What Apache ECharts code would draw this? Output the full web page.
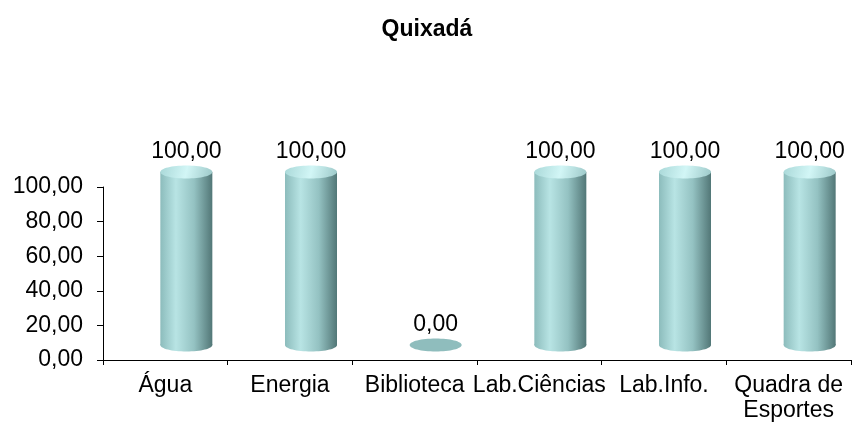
<!DOCTYPE html>
<html>
<head>
<meta charset="utf-8">
<script src="https://cdn.jsdelivr.net/npm/echarts@6/dist/echarts.min.js"></script>
<style>
  html, body { margin: 0; padding: 0; background: #fff; }
  #chart { width: 854px; height: 425px; }
</style>
</head>
<body>
<div id="chart"></div>
<script>
// Dados do gráfico
const titulo = 'Quixadá';
const categorias = ['Água', 'Energia', 'Biblioteca', 'Lab.Ciências', 'Lab.Info.', 'Quadra de\nEsportes'];
const valores = [100, 100, 0, 100, 100, 100];
const yTicks = [0, 20, 40, 60, 80, 100];

const fonte = '"Liberation Sans", Arial, sans-serif';
const fmt = v => v.toFixed(2).replace('.', ',');

// Cilindro 3D desenhado a partir das coordenadas do eixo
function renderCilindro(params, api) {
    const v = api.value(1);
    const base = api.coord([api.value(0), 0]);
    const topo = api.coord([api.value(0), v]);
    const cx = base[0] + 21;
    const by = base[1] - 15;
    const ty = topo[1] - 15;
    const rx = 26, ry = 6.5;
    const children = [];

    if (v > 0) {
        const corpo = new echarts.graphic.LinearGradient(0, 0, 1, 0, [
            { offset: 0, color: '#8cbcbc' },
            { offset: 0.3, color: '#b8e4e4' },
            { offset: 0.65, color: '#94c2c2' },
            { offset: 1, color: '#527777' }
        ]);
        children.push({
            type: 'ellipse',
            shape: { cx: cx, cy: by, rx: rx, ry: ry },
            style: { fill: corpo }
        });
        children.push({
            type: 'rect',
            shape: { x: cx - rx, y: ty, width: rx * 2, height: by - ty },
            style: { fill: corpo }
        });
        children.push({
            type: 'ellipse',
            shape: { cx: cx, cy: ty, rx: rx, ry: ry },
            style: {
                fill: new echarts.graphic.LinearGradient(0, 0, 1, 1, [
                    { offset: 0, color: '#a9d8d8' },
                    { offset: 0.5, color: '#d2f6f6' },
                    { offset: 1, color: '#9cc8c8' }
                ])
            }
        });
    } else {
        children.push({
            type: 'ellipse',
            shape: { cx: cx, cy: by, rx: rx, ry: ry },
            style: { fill: '#8fbdbd' }
        });
    }

    children.push({
        type: 'text',
        style: {
            text: fmt(v),
            x: cx,
            y: (v > 0 ? ty : by) - 20,
            align: 'center',
            verticalAlign: 'middle',
            fontSize: 23,
            fontFamily: fonte,
            fill: '#000'
        }
    });

    return { type: 'group', children: children };
}

const chart = echarts.init(document.getElementById('chart'));

chart.setOption({
    backgroundColor: '#fff',
    animation: false,
    title: {
        text: titulo,
        left: 'center',
        top: 13,
        textStyle: { fontSize: 23, fontWeight: 'bold', color: '#000', fontFamily: fonte }
    },
    grid: { left: 103, right: 3, top: 187, bottom: 65 },
    xAxis: {
        type: 'category',
        data: categorias,
        boundaryGap: true,
        axisLine: { lineStyle: { color: '#000', width: 1 } },
        axisTick: { show: true, length: 5, lineStyle: { color: '#000' } },
        axisLabel: {
            interval: 0,
            color: '#000',
            fontSize: 23,
            fontFamily: fonte,
            margin: 13,
            lineHeight: 25
        }
    },
    yAxis: {
        type: 'value',
        min: yTicks[0],
        max: yTicks[yTicks.length - 1],
        interval: yTicks[1] - yTicks[0],
        axisLine: { show: true, lineStyle: { color: '#000', width: 1 } },
        axisTick: { show: true, length: 6, lineStyle: { color: '#000' } },
        splitLine: { show: false },
        axisLabel: {
            color: '#000',
            fontSize: 23,
            fontFamily: fonte,
            margin: 20,
            formatter: fmt
        }
    },
    series: [{
        type: 'custom',
        clip: false,
        renderItem: renderCilindro,
        encode: { x: 0, y: 1 },
        data: valores.map((v, i) => [i, v])
    }]
});
</script>
</body>
</html>
